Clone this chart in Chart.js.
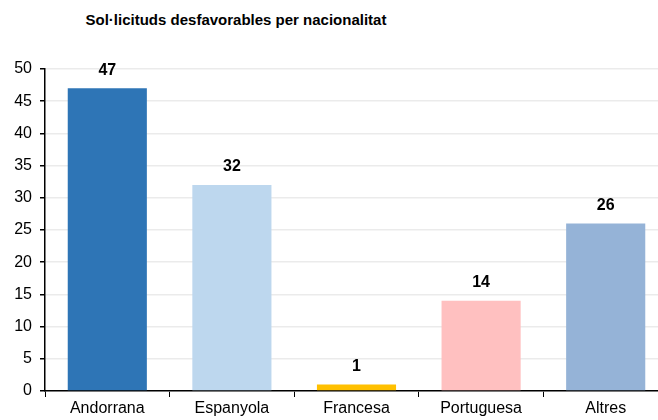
<html>
    <head>
        <meta charset="utf-8">
        <title>Sol·licituds desfavorables</title>
        <script src="https://cdn.jsdelivr.net/npm/chart.js@4/dist/chart.umd.min.js"></script>
        <style>
            html, body { margin: 0; padding: 0; background: #fff; overflow: hidden; }
            #title {
                position: absolute; left: 236px; top: 11px; transform: translateX(-50%);
                font: bold 15px "Liberation Sans", Arial, sans-serif; color: #000; white-space: nowrap;
                transform-origin: center; 
            }
            #wrap { position: absolute; left: 0; top: 0; width: 670px; height: 420px; }
        </style>
    </head>
    <body>
        <div id="title">Sol·licituds desfavorables per nacionalitat</div>
        <div id="wrap"><canvas id="mainchart"></canvas></div>
        <script>
            const categories = ['Andorrana', 'Espanyola', 'Francesa', 'Portuguesa', 'Altres']
            const values = [47, 32, 1, 14, 26]
            const barColors = ['#2E75B6', '#BDD7EE', '#FFC000', '#FFC0C0', '#95B3D7']
            const yTicks = [0, 5, 10, 15, 20, 25, 30, 35, 40, 45, 50]

            const font = '"Liberation Sans", Arial, sans-serif'

            // values above bars
            const barLabels = {
                id: 'barLabels',
                afterDatasetsDraw(chart) {
                    const c = chart.ctx
                    c.save()
                    c.font = 'bold 16px ' + font
                    c.fillStyle = '#000'
                    c.textAlign = 'center'
                    c.textBaseline = 'bottom'
                    chart.getDatasetMeta(0).data.forEach((bar, i) => {
                        c.fillText(values[i], bar.x, bar.y - 10)
                    })
                    c.restore()
                }
            }

            const ctx = document.getElementById('mainchart').getContext('2d')
            const mainchart = new Chart(ctx, {
                type: 'bar',
                data: {
                    labels: categories,
                    datasets: [{
                        data: values,
                        backgroundColor: barColors,
                        borderWidth: 0,
                        barPercentage: 0.635,
                        categoryPercentage: 1
                    }]
                },
                options: {
                    responsive: true,
                    maintainAspectRatio: false,
                    animation: false,
                    layout: { padding: { top: 69, right: 2, left: 0, bottom: 0 } },
                    plugins: {
                        legend: { display: false },
                        tooltip: { enabled: false }
                    },
                    scales: {
                        x: {
                            grid: { display: true, drawOnChartArea: false, offset: true, tickLength: 6, tickColor: '#000' },
                            border: { color: '#000', width: 1.5 },
                            ticks: { color: '#000', font: { family: font, size: 16 }, padding: 2 },
                            afterFit: (scale) => { scale.height = 29 }
                        },
                        y: {
                            min: 0,
                            max: 50,
                            afterBuildTicks: (scale) => { scale.ticks = yTicks.map(v => ({ value: v })) },
                            grid: { color: '#ebebeb', lineWidth: 1.5, tickLength: 5, tickColor: '#000' },
                            border: { color: '#000', width: 1.5 },
                            ticks: { color: '#000', font: { family: font, size: 16 }, padding: 8 },
                            afterFit: (scale) => { scale.width = 45 }
                        }
                    }
                },
                plugins: [barLabels]
            })
        </script>
    </body>
</html>
